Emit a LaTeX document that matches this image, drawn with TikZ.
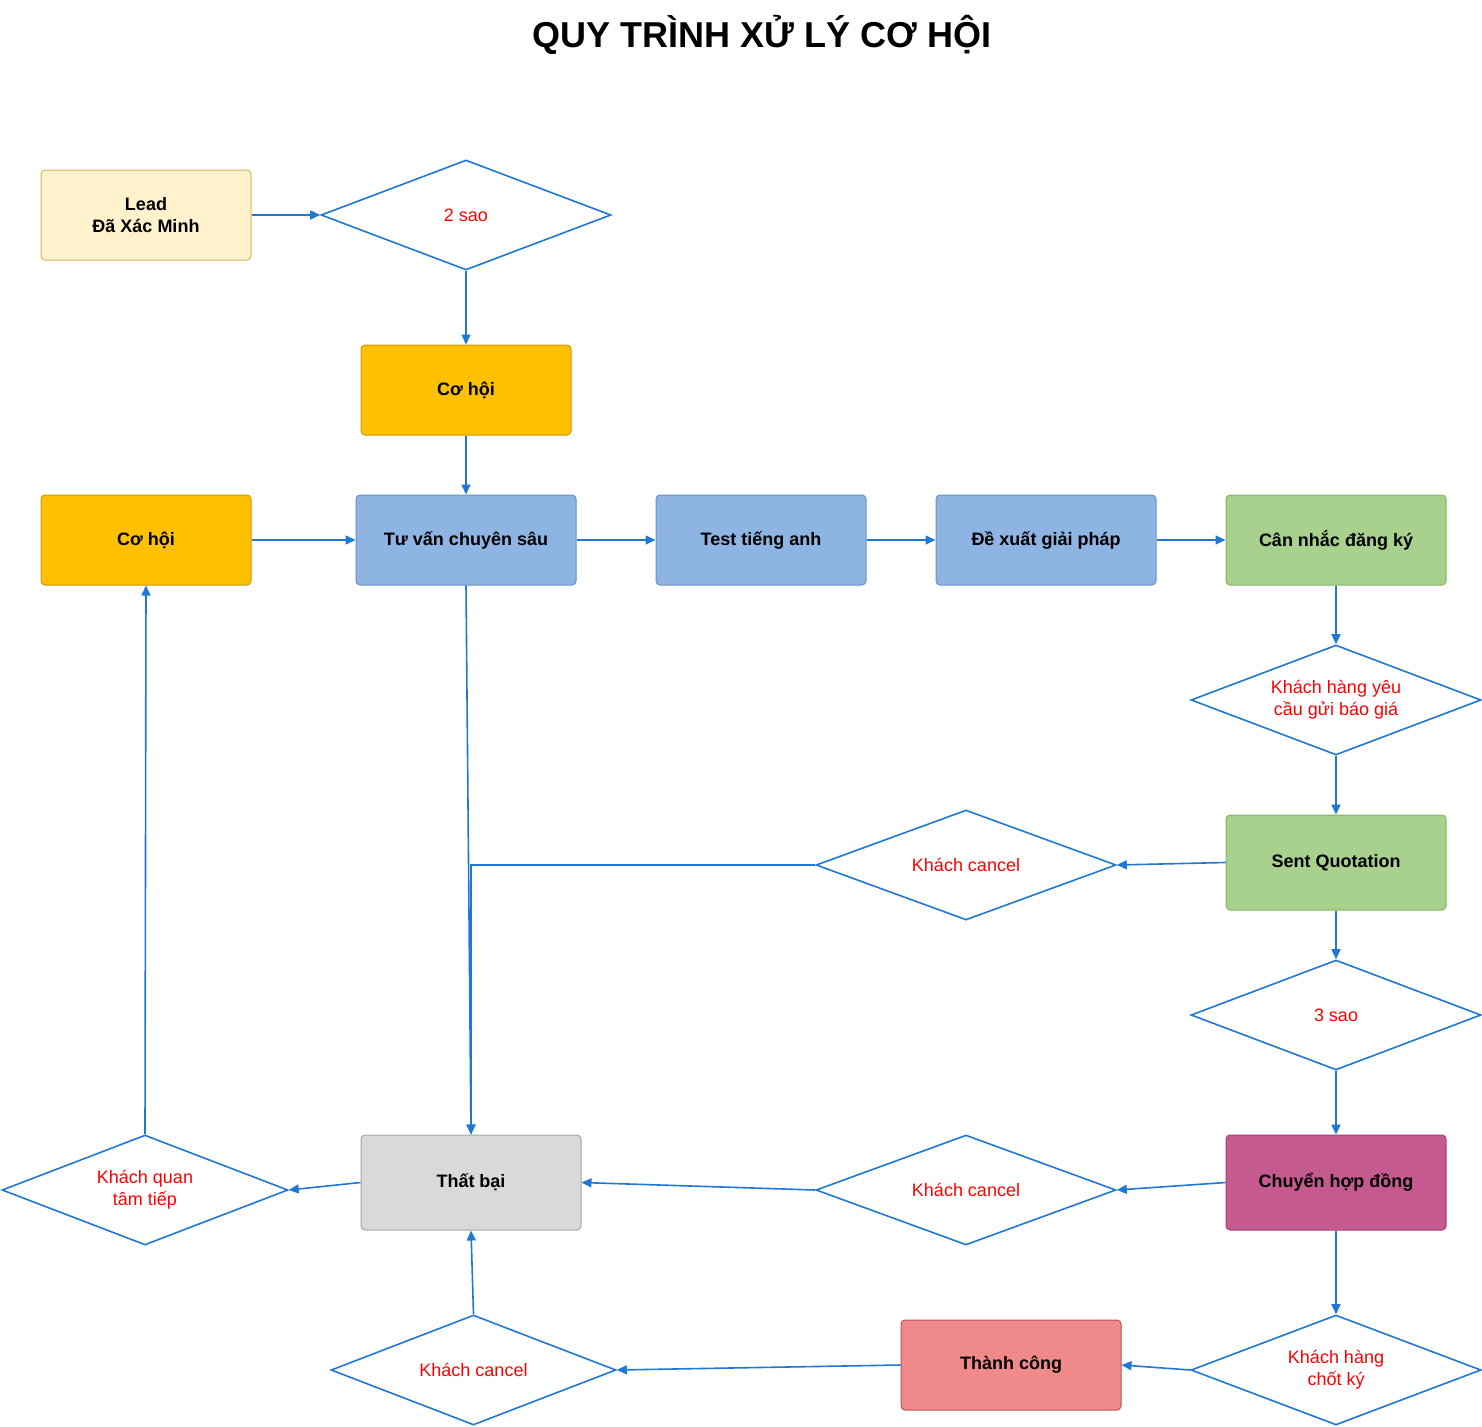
\documentclass[tikz,border=0pt]{standalone}
\usepackage{fontspec}
\setmainfont{Liberation Sans}
\usepackage{tikz}
\usetikzlibrary{arrows.meta,shapes.geometric}
\definecolor{LineBlue}{HTML}{1F78D1}
\definecolor{LeadFill}{HTML}{FFF2CC}
\definecolor{LeadDraw}{HTML}{D6B656}
\definecolor{OrangeFill}{HTML}{FFC000}
\definecolor{OrangeDraw}{HTML}{C89B00}
\definecolor{BlueFill}{HTML}{8EB4E3}
\definecolor{BlueDraw}{HTML}{6C8EBF}
\definecolor{GreenFill}{HTML}{A9D18E}
\definecolor{GreenDraw}{HTML}{82B366}
\definecolor{PurpleFill}{HTML}{C55A91}
\definecolor{PurpleDraw}{HTML}{A0416F}
\definecolor{GrayFill}{HTML}{D9D9D9}
\definecolor{GrayDraw}{HTML}{A6A6A6}
\definecolor{PinkFill}{HTML}{F08A8A}
\definecolor{PinkDraw}{HTML}{B85450}

\begin{document}
\begin{tikzpicture}[x=1pt,y=-1pt]
		\useasboundingbox (0,0) rectangle (1482,1426);
		\tikzset{BoxStyle/.style = {draw, rounded corners=4pt, line width=1pt, minimum width=210pt, minimum height=90pt, inner sep=0pt, align=center, font=\fontsize{18}{22}\selectfont\bfseries}}
		\tikzset{DecisionStyle/.style = {diamond, draw=LineBlue, fill=white, line width=1.6pt, aspect=2.6, minimum width=290pt, minimum height=110pt, inner sep=0pt, align=center, text=red, font=\fontsize{18}{22}\selectfont}}
		\tikzset{EdgeStyle/.style = {draw=LineBlue, line width=1.6pt, -{Triangle[length=10pt,width=9pt]}}}
		\node[font=\fontsize{36}{40}\selectfont\bfseries] (title) at (762,35) {QUY TRÌNH XỬ LÝ CƠ HỘI};
		% top part
		\node[BoxStyle, fill=LeadFill, draw=LeadDraw] (lead) at (146,215) {Lead\\Đã Xác Minh};
		\node[DecisionStyle] (saoHai) at (466,215) {2 sao};
		\node[BoxStyle, fill=OrangeFill, draw=OrangeDraw] (coHoiTop) at (466,390) {Cơ hội};
		% main row
		\node[BoxStyle, fill=OrangeFill, draw=OrangeDraw] (coHoiLeft) at (146,540) {Cơ hội};
		\node[BoxStyle, fill=BlueFill, draw=BlueDraw, minimum width=220pt] (tuVan) at (466,540) {Tư vấn chuyên sâu};
		\node[BoxStyle, fill=BlueFill, draw=BlueDraw] (testTA) at (761,540) {Test tiếng anh};
		\node[BoxStyle, fill=BlueFill, draw=BlueDraw, minimum width=220pt] (deXuat) at (1046,540) {Đề xuất giải pháp};
		\node[BoxStyle, fill=GreenFill, draw=GreenDraw, minimum width=220pt] (canNhac) at (1336,540) {Cân nhắc đăng ký};
		% right column
		\node[DecisionStyle] (yeuCau) at (1336,700) {Khách hàng yêu\\cầu gửi báo giá};
		\node[BoxStyle, fill=GreenFill, draw=GreenDraw, minimum width=220pt, minimum height=95pt] (sentQ) at (1336,862.5) {Sent Quotation};
		\node[DecisionStyle, minimum width=300pt] (cancelA) at (966,865) {Khách cancel};
		\node[DecisionStyle] (saoBa) at (1336,1015) {3 sao};
		\node[BoxStyle, fill=PurpleFill, draw=PurpleDraw, minimum width=220pt, minimum height=95pt] (chuyenHD) at (1336,1182.5) {Chuyển hợp đồng};
		\node[DecisionStyle, minimum width=300pt] (cancelB) at (966,1190) {Khách cancel};
		% bottom part
		\node[BoxStyle, fill=GrayFill, draw=GrayDraw, minimum width=220pt, minimum height=95pt] (thatBai) at (471,1182.5) {Thất bại};
		\node[DecisionStyle, minimum width=286pt] (quanTam) at (145,1190) {Khách quan\\tâm tiếp};
		\node[DecisionStyle, minimum width=285pt] (cancelC) at (473.5,1370) {Khách cancel};
		\node[BoxStyle, fill=PinkFill, draw=PinkDraw, minimum width=220pt] (thanhCong) at (1011,1365) {Thành công};
		\node[DecisionStyle] (chotKy) at (1336,1370) {Khách hàng\\chốt ký};
		% edges
		\draw[EdgeStyle] (lead) -- (saoHai.west);
		\draw[EdgeStyle] (saoHai) -- (coHoiTop);
		\draw[EdgeStyle] (coHoiTop) -- (tuVan);
		\draw[EdgeStyle] (coHoiLeft) -- (tuVan);
		\draw[EdgeStyle] (tuVan) -- (testTA);
		\draw[EdgeStyle] (testTA) -- (deXuat);
		\draw[EdgeStyle] (deXuat) -- (canNhac);
		\draw[EdgeStyle] (canNhac) -- (yeuCau.north);
		\draw[EdgeStyle] (yeuCau.south) -- (sentQ);
		\draw[EdgeStyle] (sentQ.west) -- (cancelA.east);
		\draw[EdgeStyle] (cancelA.west) -| (thatBai.north);
		\draw[EdgeStyle] (tuVan.south) -- (thatBai.north);
		\draw[EdgeStyle] (sentQ) -- (saoBa.north);
		\draw[EdgeStyle] (saoBa.south) -- (chuyenHD);
		\draw[EdgeStyle] (chuyenHD.west) -- (cancelB.east);
		\draw[EdgeStyle] (cancelB.west) -- (thatBai.east);
		\draw[EdgeStyle] (thatBai.west) -- (quanTam.east);
		\draw[EdgeStyle] (quanTam.north) -- (coHoiLeft.south);
		\draw[EdgeStyle] (chuyenHD) -- (chotKy.north);
		\draw[EdgeStyle] (chotKy.west) -- (thanhCong.east);
		\draw[EdgeStyle] (thanhCong.west) -- (cancelC.east);
		\draw[EdgeStyle] (cancelC.north) -- (thatBai.south);
\end{tikzpicture}
\end{document}
